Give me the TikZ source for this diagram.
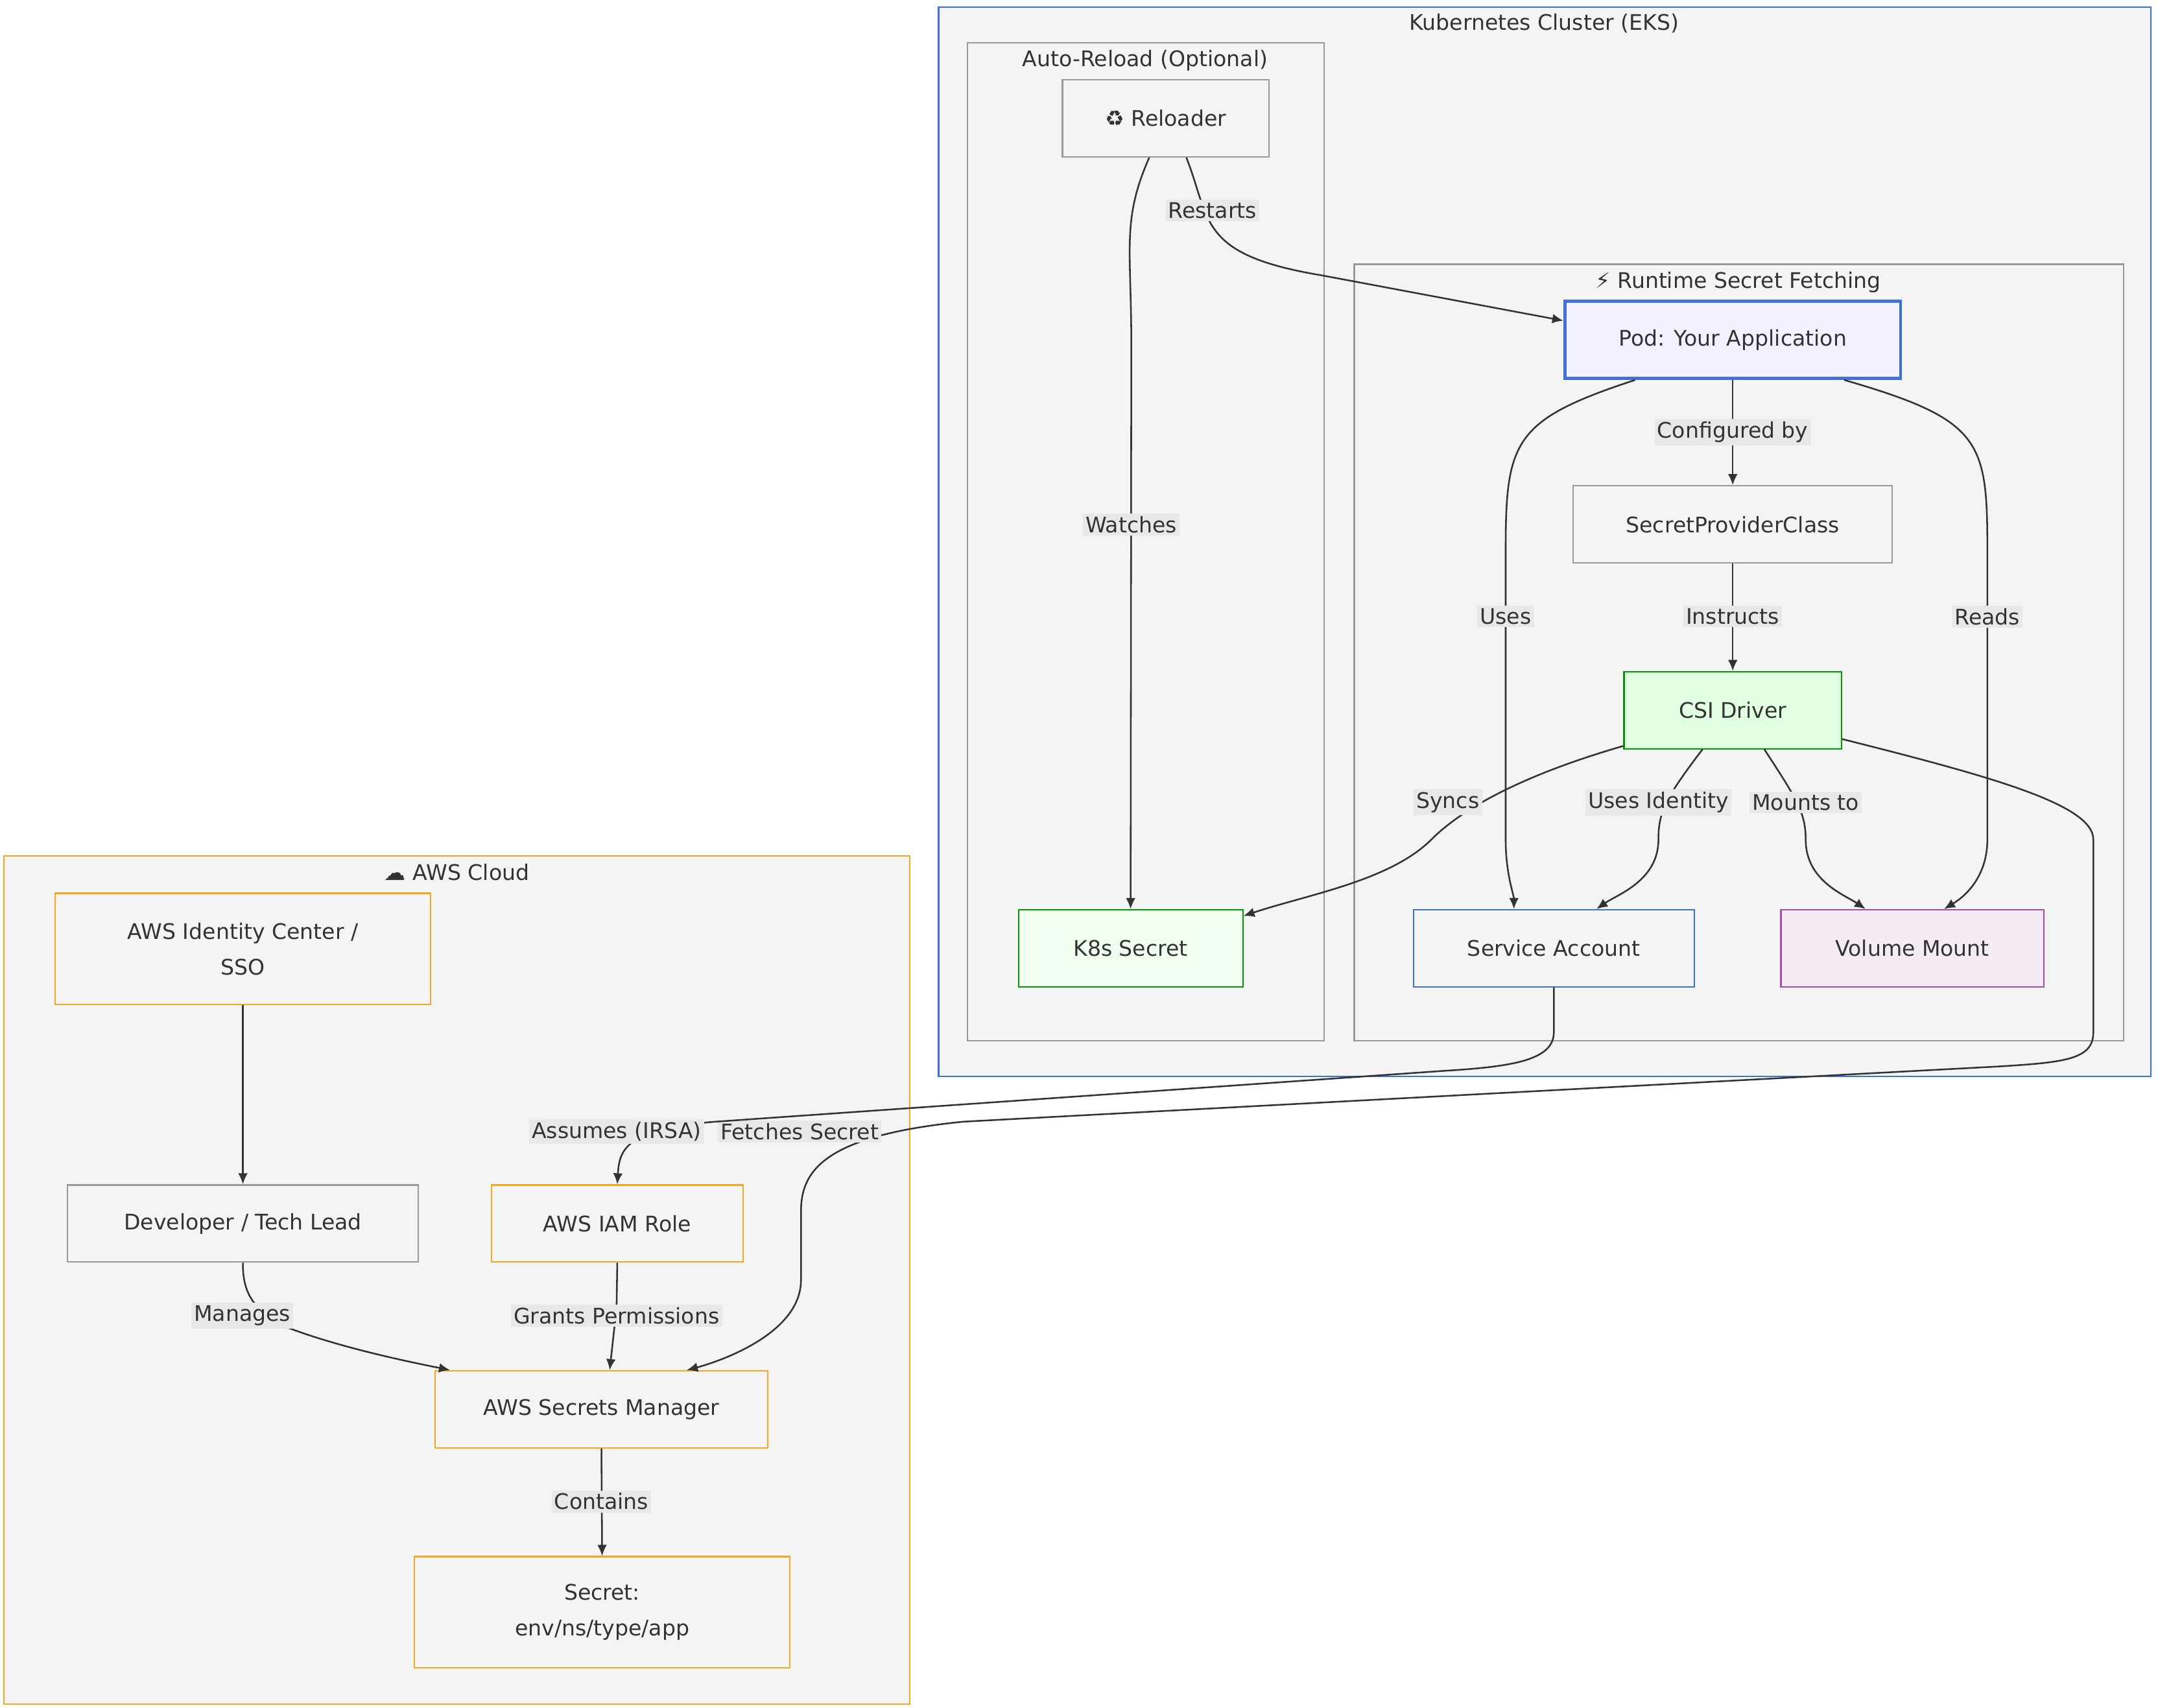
\documentclass[tikz,border=0pt]{standalone}
\usepackage{fontspec}
\setmainfont{DejaVu Sans}
\usetikzlibrary{calc,arrows.meta}
\definecolor{txt}{HTML}{333333}
\definecolor{grp}{HTML}{F4F4F4}
\definecolor{orn}{HTML}{F5A623}
\definecolor{blu}{HTML}{3F6FD8}
\begin{document}
\begin{tikzpicture}[x=0.5pt,y=-0.5pt,font=\fontsize{7.8}{10}\selectfont,text=txt,
 box/.style={draw=#1,fill=grp,line width=0.5pt},
 nd/.style={draw=#1,fill=grp,line width=0.5pt,align=center,inner sep=0pt},
 lb/.style={fill=black!9,inner sep=1pt,text=txt},
 ar/.style={draw=txt,line width=0.6pt,-{Latex[length=4pt,width=3.5pt]}},
 ln/.style={draw=txt,line width=0.6pt}]
\path[fill=white] (0,0) rectangle (1568,1241);
\useasboundingbox (0,0) rectangle (1568,1241);
% groups
\draw[box=blu] (682,5) rectangle (1563,782);
\node at (1122,17) {Kubernetes Cluster (EKS)};
\draw[box=gray!80] (703,31) rectangle (962,756);
\node at (832,44) {Auto-Reload (Optional)};
\draw[box=gray!80] (984,192) rectangle (1543,756);
\node at (1263,205) {⚡ Runtime Secret Fetching};
\draw[box=orn] (3,622) rectangle (661,1238);
\node at (332,634) {☁ AWS Cloud};
% nodes
\node[nd=gray!80,minimum width=75pt,minimum height=28pt] (rel) at (847,86) {♻ Reloader};
\node[nd=blu,fill=blue!5,line width=1.1pt,minimum width=122pt,minimum height=28pt] (pod) at (1259,247) {Pod: Your Application};
\node[nd=gray!80,minimum width=116pt,minimum height=28pt] (spc) at (1259,381) {SecretProviderClass};
\node[nd=green!60!black,fill=green!12,minimum width=79pt,minimum height=28pt] (csi) at (1259,516) {CSI Driver};
\node[nd=green!60!black,fill=green!6,minimum width=81.5pt,minimum height=28pt] (k8s) at (821.5,689) {K8s Secret};
\node[nd=blu,fill=white!96!black,minimum width=102pt,minimum height=28pt] (sa) at (1129,689) {Service Account};
\node[nd=violet!70,fill=violet!8,minimum width=95.5pt,minimum height=28pt] (vol) at (1389.5,689) {Volume Mount};
\node[nd=orn,minimum width=136.5pt,minimum height=40.5pt] (idc) at (176.5,689.5) {AWS Identity Center /\\[3pt]SSO};
\node[nd=gray!80,minimum width=127.5pt,minimum height=28pt] (dev) at (176.5,889) {Developer / Tech Lead};
\node[nd=orn,minimum width=91.5pt,minimum height=28pt] (iam) at (448.5,889) {AWS IAM Role};
\node[nd=orn,minimum width=121pt,minimum height=28pt] (sm) at (437,1024) {AWS Secrets Manager};
\node[nd=orn,minimum width=136.5pt,minimum height=40.5pt] (sec) at (437.5,1171.5) {Secret:\\[3pt]env/ns/type/app};
% edges
\draw[ar] ($(rel.south)+(-12,0)$) .. controls (815,160) and (822,180) .. (822,250) -- (k8s.north);
\node[lb] at (822,381) {Watches};
\draw[ar] ($(rel.south)+(15,0)$) .. controls (880,160) and (870,185) .. (960,200) -- (pod.west|-0,233);
\node[lb] at (881,153) {Restarts};
\draw[ar] (pod.south) -- (spc.north);
\node[lb] at (1259,314) {Configured by};
\draw[ar] (spc.south) -- (csi.north);
\node[lb] at (1259,448) {Instructs};
\draw[ar] ($(pod.south)+(-71,0)$) .. controls (1100,305) and (1094,320) .. (1094,400) -- (1094,610) .. controls (1094,635) and (1100,650) .. ($(sa.north)+(-29,0)$);
\node[lb] at (1094,448) {Uses};
\draw[ar] ($(pod.south)+(81,0)$) .. controls (1440,305) and (1444,320) .. (1444,400) -- (1444,610) .. controls (1444,635) and (1430,650) .. ($(vol.north)+(23,0)$);
\node[lb] at (1444,448) {Reads};
\draw[ar] ($(csi.west)+(0,26)$) .. controls (1100,565) and (1060,590) .. (1040,610) .. controls (1010,640) and (950,650) .. ($(k8s.north east)+(0,5)$);
\node[lb] at (1052,583) {Syncs};
\draw[ar] ($(csi.south)+(-22,0)$) .. controls (1210,580) and (1205,590) .. (1205,610) .. controls (1205,640) and (1175,650) .. ($(sa.north)+(31,0)$);
\node[lb] at (1205,583) {Uses Identity};
\draw[ar] ($(csi.south)+(23,0)$) .. controls (1305,580) and (1312,590) .. (1312,610) .. controls (1312,640) and (1340,650) .. ($(vol.north)+(-34,0)$);
\node[lb] at (1312,583) {Mounts to};
\draw[ar] ($(csi.east)+(0,21)$) .. controls (1450,565) and (1521,585) .. (1521,610) -- (1521,750) .. controls (1521,770) and (1500,772) .. (1450,775) -- (700,815) .. controls (600,825) and (582,850) .. (582,880) -- (582,930) .. controls (582,970) and (520,990) .. ($(sm.north)+(62,0)$);
\node[lb] at (581,822) {Fetches Secret};
\draw[ar] (sa.south) -- (1129,750) .. controls (1129,770) and (1100,775) .. (1050,778) -- (520,815) .. controls (455,820) and (450,835) .. (iam.north);
\node[lb] at (448,822) {Assumes (IRSA)};
\draw[ar] (idc.south) -- (dev.north);
\draw[ar] (dev.south) .. controls (176,945) and (190,955) .. (210,965) .. controls (250,980) and (300,990) .. ($(sm.north)+(-110,0)$);
\node[lb] at (176,956) {Manages};
\draw[ar] (iam.south) -- (448,950) -- ($(sm.north)+(6,0)$);
\node[lb] at (448,956) {Grants Permissions};
\draw[ar] (sm.south) -- (sec.north);
\node[lb] at (437,1091) {Contains};
\end{tikzpicture}
\end{document}
